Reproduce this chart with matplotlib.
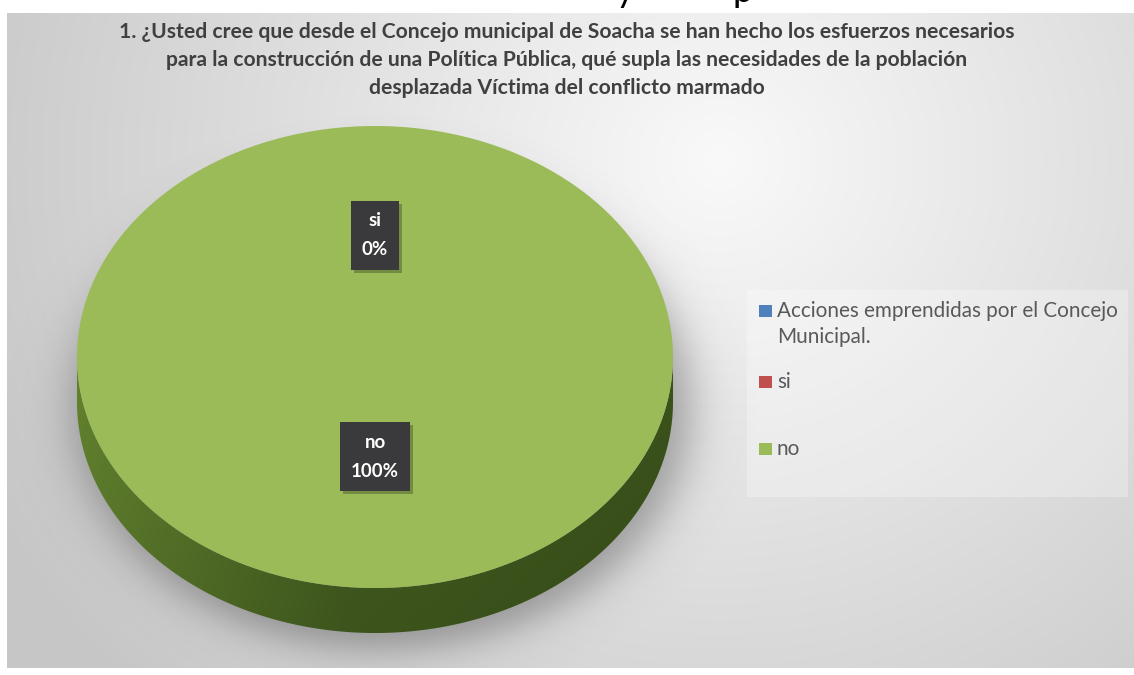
import numpy as np
import matplotlib
matplotlib.use("Agg")
import matplotlib.pyplot as plt
from matplotlib.patches import Polygon, Rectangle
import textwrap

# ---------------- data ----------------
title_lines = [
    "1. ¿Usted cree que desde el Concejo municipal de Soacha se han hecho los esfuerzos necesarios",
    "para la construcción de una Política Pública, qué supla las necesidades de la población",
    "desplazada Víctima del conflicto marmado",
]
categories = ["Acciones emprendidas por el Concejo Municipal.", "si", "no"]
values = [np.nan, 0, 100]
colors = ["#4F81BD", "#C0504D", "#9BBB59"]

# ---------------- figure ----------------
W, H = 1134, 675
fig = plt.figure(figsize=(W / 100, H / 100), dpi=100)
fig.patch.set_facecolor("white")
ax = fig.add_axes([0, 0, 1, 1])
ax.set_xlim(0, W)
ax.set_ylim(H, 0)
ax.axis("off")
renderer = fig.canvas.get_renderer()

BODY = ["Lato", "DejaVu Sans"]

def fit_size(txt, target, weight="normal", family=BODY, start=14):
    t = ax.text(0, 0, txt, fontsize=start, fontweight=weight, family=family)
    w = t.get_window_extent(renderer).width
    t.remove()
    return start * target / w

# partial text of the page above the chart (cut off in the original too)
for ch, xx in [("y", 625), ("p", 743)]:
    ax.text(xx, 2, ch, fontsize=26, family=BODY, color="black", ha="center",
            va="baseline", zorder=0)

# ---------------- chart area background ----------------
x0, x1, y0, y1 = 7, W, 13, 668
xx, yy = np.meshgrid(np.arange(x0, x1) + 0.5, np.arange(y0, y1) + 0.5)
d = np.sqrt(((xx - 720) / 1.0) ** 2 + ((yy - 160) / 0.95) ** 2)
g = np.clip(249 - 0.062 * d, 198, 249) / 255.0
ax.imshow(np.dstack([g, g, g]), extent=(x0, x1, y1, y0), zorder=1,
          interpolation="bilinear", aspect="auto")

# ---------------- pie geometry ----------------
cx, cy, rx, ry, depth = 375, 357, 298, 231, 45

# soft drop shadow
sd = np.sqrt(((xx - (cx + 7)) / (rx + 10)) ** 2 + ((yy - (cy + depth + 6)) / (ry + 10)) ** 2)
a = 0.5 / (1 + np.exp((sd - 1.0) / 0.045))
shadow = np.zeros(xx.shape + (4,))
shadow[..., :3] = 0.33
shadow[..., 3] = a
ax.imshow(shadow, extent=(x0, x1, y1, y0), zorder=2, interpolation="bilinear",
          aspect="auto")

vals = np.nan_to_num(np.array(values, dtype=float))
total = vals.sum()
fracs = vals / total
start = 90.0
theta1s, theta2s = [], []
cum = 0.0
for f in fracs:
    t1 = start - cum * 360
    t2 = t1 - f * 360
    theta1s.append(t1)
    theta2s.append(t2)
    cum += f

def ell(th, dy=0.0, s=1.0):
    r = np.radians(th)
    return cx + s * rx * np.cos(r), cy - s * ry * np.sin(r) + dy

# side gradient image
sx = np.linspace(0, 1, 400)
sy = np.linspace(0, 1, 120)
SX, SY = np.meshgrid(sx, sy)
c_left = np.array([0x62, 0x82, 0x2e]) / 255
c_mid = np.array([0x44, 0x5e, 0x20]) / 255
c_right = np.array([0x3c, 0x53, 0x1b]) / 255
t = SX[..., None]
col = np.where(t < 0.45, c_left + (c_mid - c_left) * (t / 0.45),
               c_mid + (c_right - c_mid) * ((t - 0.45) / 0.55))
col = col * (1.0 - 0.10 * SY[..., None])
side_img = np.clip(col, 0, 1)

for i, f in enumerate(fracs):
    if f <= 0:
        continue
    th = np.linspace(theta2s[i], theta1s[i], 1000)
    front = np.sin(np.radians(th)) <= 0
    if front.any():
        tf = th[front]
        xt, yt = ell(tf)
        xb, yb = ell(tf, dy=depth)
        pts = np.column_stack([np.r_[xt, xb[::-1]], np.r_[yt, yb[::-1]]])
        poly = Polygon(pts, closed=True, fc="none", ec="none", zorder=3)
        ax.add_patch(poly)
        im = ax.imshow(side_img, extent=(cx - rx, cx + rx, cy + ry + depth, cy),
                       zorder=3, aspect="auto", interpolation="bilinear")
        im.set_clip_path(poly)
    # top surface
    xt, yt = ell(th)
    if f < 1:
        xt = np.r_[cx, xt]
        yt = np.r_[cy, yt]
    ax.add_patch(Polygon(np.column_stack([xt, yt]), closed=True, fc=colors[i],
                         ec="none", zorder=4))

# ---------------- data labels ----------------
lab_r, lab_dy, pad = 0.48, -11, 11
lab_size = 13.5
for i, v in enumerate(values):
    if np.isnan(v):
        continue
    m = (theta1s[i] + theta2s[i]) / 2
    px, py = ell(m, dy=lab_dy, s=lab_r)
    lines = [categories[i], f"{fracs[i] * 100:.0f}%"]
    ws = []
    for k, ln in enumerate(lines):
        tt = ax.text(px, py + (k - 0.5) * 29, ln, ha="center", va="center",
                     fontsize=lab_size, fontweight="bold", family=BODY,
                     color="white", zorder=8)
        ws.append(tt.get_window_extent(renderer).width)
    bw, bh = max(ws) + 2 * pad, 69
    ax.add_patch(Rectangle((px - bw / 2 + 3, py - bh / 2 + 3), bw, bh,
                           fc="black", alpha=0.25, ec="none", zorder=6))
    ax.add_patch(Rectangle((px - bw / 2, py - bh / 2), bw, bh, fc="#3a3a3c",
                           ec="none", zorder=7))

# ---------------- legend ----------------
ax.add_patch(Rectangle((747, 290), 381, 207, fc="white", alpha=0.28, ec="none",
                       zorder=2))
leg_size = fit_size("Acciones emprendidas por el Concejo", 341, start=14)
leg_y = [311, 382, 449]
for i, cat in enumerate(categories):
    ax.add_patch(Rectangle((759, leg_y[i] - 6), 13, 12, fc=colors[i], ec="none",
                           zorder=5))
    wrapped = textwrap.wrap(cat, 35)
    for k, ln in enumerate(wrapped):
        ax.text(777, leg_y[i] + k * 26, ln, ha="left", va="center",
                fontsize=leg_size, family=BODY, color="#595959", zorder=5)

# ---------------- title ----------------
t_size = fit_size(title_lines[0], 897, weight="bold", start=14)
for k, ln in enumerate(title_lines):
    ax.text(567, 38 + 28 * k, ln, ha="center", va="baseline", fontsize=t_size,
            fontweight="bold", family=BODY, color="#404040", zorder=5)

fig.savefig("out.png", dpi=100, facecolor="white")
